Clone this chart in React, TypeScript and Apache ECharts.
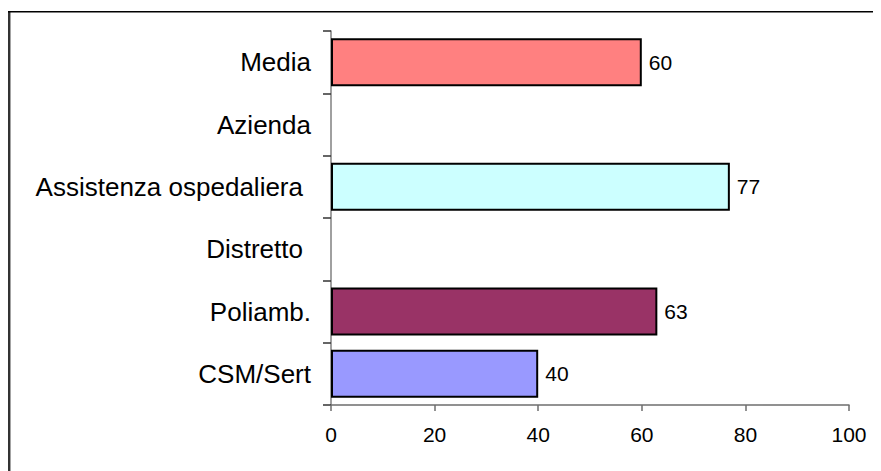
import React, { useEffect, useRef } from "react";
import * as echarts from "echarts";

// Categories listed top to bottom
const categories = ["Media", "Azienda", "Assistenza ospedaliera", "Distretto", "Poliamb.", "CSM/Sert"];
// Values per category (null = no bar)
const values: (number | null)[] = [60, null, 77, null, 63, 40];
const barColors = ["#FF8080", "#FFFFFF", "#CCFFFF", "#FFFFFF", "#993366", "#9999FF"];
// Labels that sit a little further from the axis
const extraPad: Record<string, number> = { "Assistenza ospedaliera": 8, Distretto: 8 };

const xTicks = { min: 0, max: 100, interval: 20 };

const FONT = "'Liberation Sans', Arial, sans-serif";

export default function App() {
  const ref = useRef<HTMLDivElement>(null);

  useEffect(() => {
    if (!ref.current) return;
    const chart = echarts.init(ref.current, undefined, { renderer: "svg" });

    const yData = categories.map((c) => ({
      value: c,
      textStyle: { padding: [0, extraPad[c] || 0, 0, 0] },
    }));

    const seriesData = values.map((v, i) =>
      v == null
        ? { value: null }
        : { value: v, itemStyle: { color: barColors[i] } }
    );

    chart.setOption({
      animation: false,
      backgroundColor: "#FFFFFF",
      textStyle: { fontFamily: FONT },
      grid: { left: 323, right: 32, top: 23, bottom: 66, containLabel: false },
      xAxis: {
        type: "value",
        min: xTicks.min,
        max: xTicks.max,
        interval: xTicks.interval,
        splitLine: { show: false },
        axisLine: { show: true, lineStyle: { color: "#6E6E6E", width: 1.5 } },
        axisTick: { show: true, length: 6, lineStyle: { color: "#6E6E6E", width: 1.5 } },
        axisLabel: { color: "#000", fontSize: 21, fontFamily: FONT, margin: 19 },
      },
      yAxis: {
        type: "category",
        inverse: true,
        data: yData,
        axisLine: { show: true, lineStyle: { color: "#808080", width: 1.5 } },
        axisTick: { show: true, length: 8, alignWithLabel: false, lineStyle: { color: "#333", width: 1.5 } },
        axisLabel: { color: "#000", fontSize: 26, fontFamily: FONT, margin: 20 },
      },
      series: [
        {
          type: "bar",
          data: seriesData,
          barWidth: 48,
          itemStyle: { borderColor: "#000", borderWidth: 2 },
          label: {
            show: true,
            position: "right",
            distance: 7,
            color: "#000",
            fontSize: 21,
            fontFamily: FONT,
          },
        },
      ],
      graphic: [
        {
          type: "line",
          shape: { x1: 1.2, y1: 3, x2: 1.2, y2: 470 },
          style: { stroke: "#333", lineWidth: 2.5 },
          silent: true,
        },
        {
          type: "line",
          shape: { x1: 0, y1: 3.7, x2: 880, y2: 3.7 },
          style: { stroke: "#000", lineWidth: 1.5 },
          silent: true,
        },
      ],
    });

    return () => chart.dispose();
  }, []);

  return <div ref={ref} style={{ width: 873, height: 463 }} />;
}
